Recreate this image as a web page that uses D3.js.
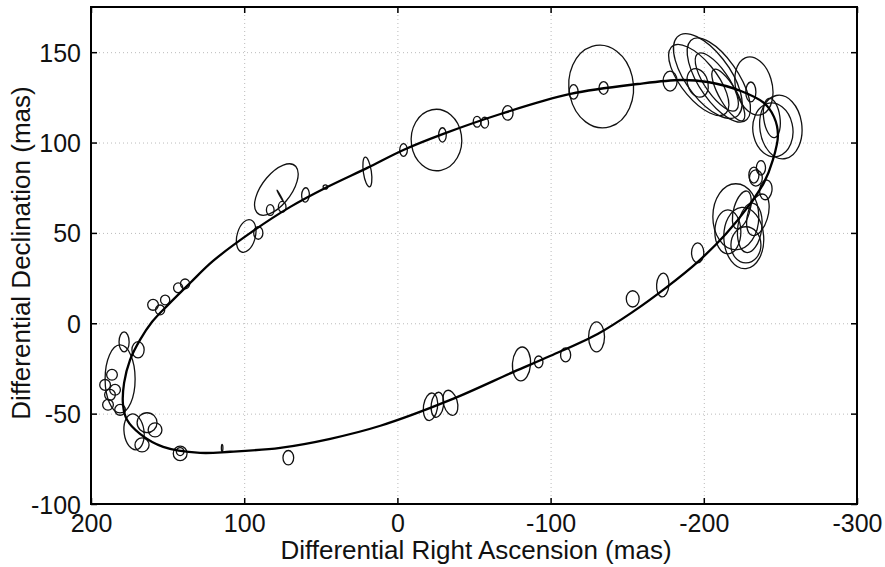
<!DOCTYPE html>
<html><head>
<meta charset="utf-8">
<script src="https://d3js.org/d3.v7.min.js"></script>
<style>
  body { margin: 0; background: #fff; }
  svg text { font-family: "Liberation Sans", Arial, Helvetica, sans-serif; fill: #111; }
  .gridlines line { stroke: #bbb; stroke-dasharray: 1,3; }
  .gridlines .domain { stroke: none; }
  .axis .domain { stroke: none; }
  .axis line { stroke: #000; stroke-width: 1.5; }
</style>
</head>
<body>
<svg id="svg1" width="885" height="567"></svg>
<script>

// ---- data ----
const xTicks = [200, 100, 0, -100, -200, -300];
const yTicks = [-100, -50, 0, 50, 100, 150];

// fitted orbit (RA, Dec in mas)
const orbitRA  = [179.1, 178.4, 174.5, 168, 160.1, 149.7, 135.3, 120.3, 94.1, 69.9, 45.8, 19.6, -3.9, -30, -67.3, -113, -156.9, -185, -202.6, -224.2, -239.2, -245.8, -248.4,
                  -245.1, -239.2, -228.8, -214.4, -196.1, -175.2, -153.6, -130.7, -100, -75.8, -34.6, 11.1, 43.8, 76.5, 109.2, 128.8, 152.9, 168, 176.5];
const orbitDec = [-45.1, -33, -20.2, -9.2, 0.8, 10.2, 22.3, 34.5, 51.1, 64.4, 75.4, 86, 95.9, 104.8, 115.8, 126.9, 132.4, 134.6, 133.5, 128.5, 121.9, 114.2, 104.2,
                  90.4, 77.7, 64.4, 49.4, 34, 19.6, 6.3, -5.9, -18, -26.9, -42.4, -56.7, -63.9, -68.9, -71.1, -71.7, -68.4, -61.2, -53.4];

// error ellipses: centre, semi-axes (mas), orientation (deg from +RA toward +Dec)
const ellRA    = [79, 76.5, 98.7, 90.8, 83, 75.2, 60, 47, 19.6, -4, -25.5, -29.4, -52, -57, -72, -133, -115, -134.6, -178,
                  -202.6, -209.8, -196.7, -208.5, -216, -232.7, -250.3, -245.1, -244.4, -196, -230.7, -232.7, -237.3,
                  -220.9, -226.1, -227.5, -224.8, -235.3, -234, -196, -173.2, -153.6, -230, -215.7, -240.5,
                  -130, -109.8, -92.2, -81, -21.6, -26.1, -34.6, 71.2, 114.4, 141.8, 141.8,
                  159.5, 154.9, 151.6, 143.1, 138.6, 178.4, 169.3, 181, 190.8, 187.6, 188.9, 184.3, 181, 186.3, 171.9, 163.4, 166.7, 158.2];
const ellDec   = [74, 70.5, 48.3, 50, 62.7, 64.4, 71, 75.4, 83.7, 95.9, 101.4, 104.2, 111.5, 111, 116.4, 131, 128, 130.2, 134,
                  136.8, 134.6, 134.6, 133.5, 126.3, 131.3, 108.6, 107, 113.6, 133, 128, 82, 86,
                  58.9, 47.2, 43.4, 62.7, 60, 80.4, 39, 21.2, 13.5, 52.8, 50.6, 73.8,
                  -7.5, -17.5, -21.4, -22.5, -46.2, -45.1, -44, -74.4, -69, -72, -71,
                  10.2, 7.4, 12.9, 19.6, 21.8, -10.3, -14.7, -30.8, -34.1, -39.6, -45.1, -36.8, -47.9, -28.5, -60.1, -55, -67.3, -59];
const ellA     = [18, 3.8, 9.4, 3.5, 3, 3, 4, 1.5, 8.3, 3.5, 17, 4, 3, 3, 4, 23, 4, 3.5, 5.5,
                  29.4, 28.5, 25.5, 20, 17, 16.6, 17.7, 15, 11, 8.3, 5.5, 4.4, 4,
                  18.3, 17, 10, 11, 12, 4.5, 5.5, 6.6, 4.5, 13.8, 12.2, 5.5,
                  8.3, 3.9, 3.3, 9.4, 7.7, 7, 7.2, 4, 2, 4.5, 2.5,
                  3.5, 3, 3, 3, 3, 5.5, 4.5, 18.8, 3.5, 3.5, 3.5, 3.5, 3.5, 3.5, 10, 6.5, 4.6, 4.5];
const ellB     = [9, 0.2, 5.9, 3, 2.5, 2.5, 2.5, 1.2, 2.6, 2.5, 16.5, 2.5, 2.5, 2.5, 3.5, 21, 3, 3, 4.6,
                  13.6, 12.4, 11, 7.5, 5.5, 11.8, 13.7, 13, 5.3, 6.5, 3.3, 3.3, 3,
                  15, 13, 9.8, 5.2, 6.5, 4.2, 4, 4, 4.2, 7.8, 8.5, 4,
                  5.2, 3.3, 2.8, 5.9, 4.6, 4, 4.5, 3.5, 0.5, 4, 2.2,
                  3, 2.7, 2.7, 2.7, 2.7, 3.3, 4, 9.8, 3, 3, 3, 3, 3, 3, 6.5, 5.5, 3.9, 3.9];
const ellTheta = [135, 56, 110, 90, 90, 90, 95, 0, 80, 90, 80, 90, 90, 90, 90, 75, 90, 90, 90,
                  47, 50, 45, 50, 55, 70, 80, 75, 80, 60, 90, 90, 90,
                  90, 85, 90, 110, 110, 90, 90, 95, 90, 100, 90, 100,
                  90, 90, 90, 95, 100, 100, 70, 90, 90, 0, 0,
                  0, 0, 0, 0, 0, 90, 90, 90, 0, 0, 0, 0, 0, 0, 80, 0, 0, 0];

// ---- chart ----
const svg1 = d3.select("svg#svg1");
const margins = {top: 7, right: 28, bottom: 63, left: 91};
const chWidth = 885 - margins.left - margins.right;
const chHeight = 567 - margins.top - margins.bottom;

let xScale = d3.scaleLinear().domain([200, -300]).range([0, chWidth]);
let yScale = d3.scaleLinear().domain([-100, 175]).range([chHeight, 0]);

let annotations = svg1.append("g").attr("transform", `translate(${margins.left},${margins.top})`);
let chartArea = svg1.append("g").attr("transform", `translate(${margins.left},${margins.top})`);

// grid
annotations.append("g")
  .attr("class", "gridlines")
  .attr("transform", `translate(0,${chHeight})`)
  .call(d3.axisBottom(xScale).tickValues(xTicks.slice(1, -1)).tickSize(-chHeight).tickFormat(""));
annotations.append("g")
  .attr("class", "gridlines")
  .call(d3.axisLeft(yScale).tickValues(yTicks.slice(1)).tickSize(-chWidth).tickFormat(""));

// clip so orbit/ellipses stay in frame
svg1.append("defs").append("clipPath").attr("id", "clip")
  .append("rect").attr("width", chWidth).attr("height", chHeight);
chartArea.attr("clip-path", "url(#clip)");

// error ellipses
const kx = Math.abs(xScale(1) - xScale(0));
const ky = Math.abs(yScale(1) - yScale(0));
chartArea.selectAll("ellipse").data(ellRA.map((d, i) => i))
  .join("ellipse")
  .attr("transform", i => `translate(${xScale(ellRA[i])},${yScale(ellDec[i])}) scale(${-kx},${-ky}) rotate(${ellTheta[i]})`)
  .attr("rx", i => ellA[i])
  .attr("ry", i => ellB[i])
  .attr("fill", "none")
  .attr("stroke", "#111")
  .attr("stroke-width", 1.3)
  .attr("vector-effect", "non-scaling-stroke");

// orbit
let lineGen = d3.line()
  .x(i => xScale(orbitRA[i]))
  .y(i => yScale(orbitDec[i]))
  .curve(d3.curveCatmullRomClosed.alpha(0.5));
chartArea.append("path")
  .attr("d", lineGen(orbitRA.map((d, i) => i)))
  .attr("fill", "none")
  .attr("stroke", "#000")
  .attr("stroke-width", 2.3);

// axes with inward ticks
let bottomAxis = d3.axisBottom(xScale).tickValues(xTicks).tickSize(-6).tickPadding(10).tickFormat(d => "" + d);
let leftAxis = d3.axisLeft(yScale).tickValues(yTicks).tickSize(-6).tickPadding(10).tickFormat(d => "" + d);
annotations.append("g").attr("class", "axis").attr("transform", `translate(0,${chHeight})`).call(bottomAxis)
  .selectAll("text").style("font-size", "25px");
annotations.append("g").attr("class", "axis").call(leftAxis)
  .selectAll("text").style("font-size", "25px").attr("dy", "0.36em");
annotations.append("g").attr("class", "axis")
  .call(d3.axisTop(xScale).tickValues(xTicks).tickSize(-6).tickFormat(""));
annotations.append("g").attr("class", "axis").attr("transform", `translate(${chWidth},0)`)
  .call(d3.axisRight(yScale).tickValues(yTicks).tickSize(-6).tickFormat(""));

// frame
annotations.append("rect")
  .attr("width", chWidth).attr("height", chHeight)
  .attr("fill", "none").attr("stroke", "#000").attr("stroke-width", 2);

// titles
svg1.append("text")
  .attr("x", 476).attr("y", 559)
  .attr("text-anchor", "middle").style("font-size", "26px")
  .text("Differential Right Ascension (mas)");
svg1.append("text")
  .attr("transform", "translate(30,253) rotate(-90)")
  .attr("text-anchor", "middle").style("font-size", "26px")
  .text("Differential Declination (mas)");

</script>
</body></html>
